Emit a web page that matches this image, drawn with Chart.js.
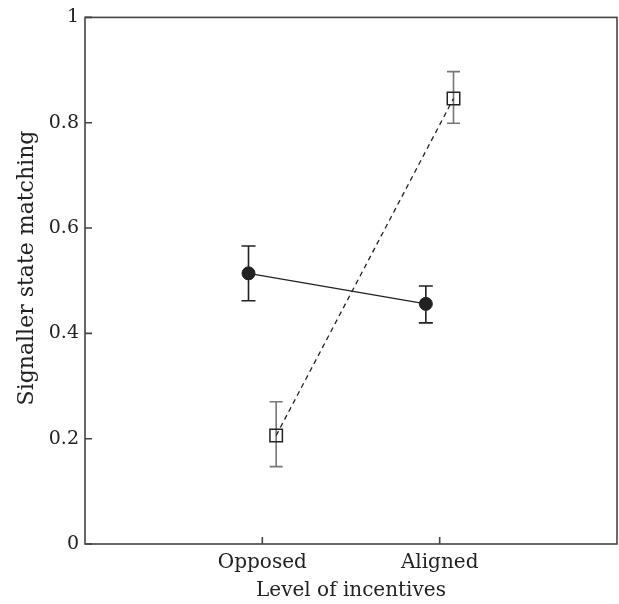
<!DOCTYPE html>
<html>
<head>
<meta charset="utf-8">
<script src="https://cdn.jsdelivr.net/npm/chart.js@4.4.0/dist/chart.umd.min.js"></script>
<style>
  html, body { margin: 0; padding: 0; background: #fff; }
  #wrap { width: 619px; height: 604px; }
</style>
</head>
<body>
<div id="wrap"><canvas id="chart" width="619" height="604"></canvas></div>
<script>
// incentive levels on the x axis (placed at 1 and 2)
const categories = ["Opposed", "Aligned"];
const yTicks = [0, 0.2, 0.4, 0.6, 0.8, 1];
const yTitle = "Signaller state matching";

// filled circles, solid line
const filledMean = [0.514, 0.456];
const filledLow = [0.462, 0.420];
const filledHigh = [0.566, 0.490];

// open squares, dashed line
const openMean = [0.206, 0.846];
const openLow = [0.147, 0.799];
const openHigh = [0.270, 0.897];

// small horizontal dodge so the two series don't overlap
const dodge = 0.078;

const FONT = "'DejaVu Serif', serif";
const AXIS_COLOR = "#444";

function points(means, shift) {
  return means.map((y, i) => ({ x: i + 1 + shift, y }));
}

const errorBars = {
  id: "errorBars",
  beforeDatasetsDraw(chart) {
    const { ctx, scales: { x, y } } = chart;
    const sets = [
      { mean: filledMean, low: filledLow, high: filledHigh, shift: -dodge, color: "#222", cap: 7 },
      { mean: openMean, low: openLow, high: openHigh, shift: dodge, color: "#777", cap: 6.5 },
    ];
    ctx.save();
    ctx.lineWidth = 1.6;
    sets.forEach((s) => {
      ctx.strokeStyle = s.color;
      s.mean.forEach((_, i) => {
        const px = x.getPixelForValue(i + 1 + s.shift);
        const top = y.getPixelForValue(s.high[i]);
        const bot = y.getPixelForValue(s.low[i]);
        ctx.beginPath();
        ctx.moveTo(px, top); ctx.lineTo(px, bot);
        ctx.moveTo(px - s.cap, top); ctx.lineTo(px + s.cap, top);
        ctx.moveTo(px - s.cap, bot); ctx.lineTo(px + s.cap, bot);
        ctx.stroke();
      });
    });
    ctx.restore();
  },
  afterDraw(chart) {
    // frame and inward ticks
    const { ctx, chartArea: a, scales: { x, y } } = chart;
    ctx.save();
    ctx.strokeStyle = AXIS_COLOR;
    ctx.lineWidth = 1.6;
    ctx.strokeRect(a.left, a.top, a.right - a.left, a.bottom - a.top);
    ctx.beginPath();
    yTicks.forEach((v) => {
      const py = y.getPixelForValue(v);
      ctx.moveTo(a.left, py); ctx.lineTo(a.left + 7, py);
    });
    categories.forEach((_, i) => {
      const px = x.getPixelForValue(i + 1);
      ctx.moveTo(px, a.bottom); ctx.lineTo(px, a.bottom - 7);
    });
    ctx.stroke();

    // y title sits a little above the axis centre in the original
    ctx.translate(27, 268);
    ctx.rotate(-Math.PI / 2);
    ctx.font = `22px ${FONT}`;
    ctx.fillStyle = "#222";
    ctx.textAlign = "center";
    ctx.textBaseline = "middle";
    ctx.fillText(yTitle, 0, 0);
    ctx.restore();
  },
};

new Chart(document.getElementById("chart"), {
  type: "line",
  data: {
    datasets: [
      {
        data: points(filledMean, -dodge),
        borderColor: "#222",
        borderWidth: 1.3,
        pointStyle: "circle",
        pointRadius: 6.5,
        pointBackgroundColor: "#222",
        pointBorderColor: "#222",
        pointBorderWidth: 1,
      },
      {
        data: points(openMean, dodge),
        borderColor: "#222",
        borderWidth: 1.3,
        borderDash: [5, 4],
        pointStyle: "rect",
        pointRadius: 8.8,
        pointBackgroundColor: "rgba(0,0,0,0)",
        pointBorderColor: "#222",
        pointBorderWidth: 1.5,
      },
    ],
  },
  options: {
    responsive: false,
    animation: false,
    layout: { autoPadding: false, padding: { top: 17, right: 2, left: 0, bottom: 0 } },
    plugins: { legend: { display: false }, tooltip: { enabled: false } },
    scales: {
      x: {
        type: "linear",
        min: 0,
        max: 3,
        afterBuildTicks: (scale) => { scale.ticks = categories.map((_, i) => ({ value: i + 1 })); },
        afterFit: (scale) => { scale.height = 60; },
        grid: { display: false, drawTicks: false },
        border: { display: false },
        ticks: {
          callback: (v) => categories[v - 1],
          font: { family: FONT, size: 20 },
          color: "#222",
          padding: 7,
          maxRotation: 0,
        },
        title: {
          display: true,
          text: "Level of incentives",
          font: { family: FONT, size: 20 },
          color: "#222",
          padding: { top: 0, bottom: 1 },
        },
      },
      y: {
        min: 0,
        max: 1,
        afterBuildTicks: (scale) => { scale.ticks = yTicks.map((v) => ({ value: v })); },
        afterFit: (scale) => { scale.width = 85; },
        grid: { display: false, drawTicks: false },
        border: { display: false },
        ticks: {
          callback: (v) => String(v),
          font: { family: FONT, size: 19 },
          color: "#222",
          padding: 6,
        },
        title: { display: false },
      },
    },
  },
  plugins: [errorBars],
});
</script>
</body>
</html>
